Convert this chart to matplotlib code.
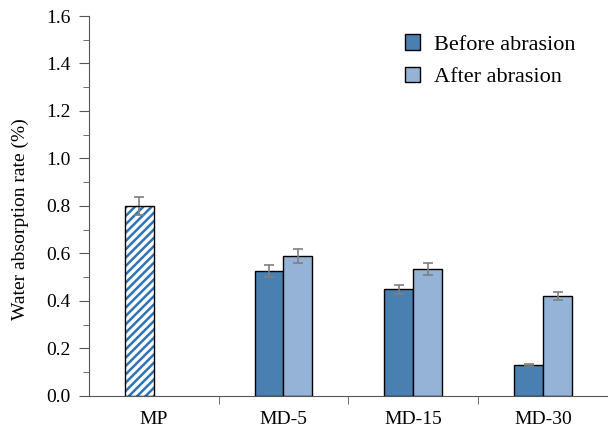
import numpy as np
import matplotlib.pyplot as plt

plt.rcParams['font.family'] = ['Liberation Serif', 'DejaVu Serif']
plt.rcParams['hatch.linewidth'] = 1.8

categories = ['MP', 'MD-5', 'MD-15', 'MD-30']
before = [0.80, 0.526, 0.448, 0.128]
before_err = [0.038, 0.027, 0.018, 0.004]
after = [np.nan, 0.589, 0.535, 0.42]
after_err = [np.nan, 0.030, 0.025, 0.018]

fig = plt.figure(figsize=(6.08, 4.33), dpi=100)
ax = fig.add_axes([0.146, 0.086, 0.854, 0.877])

x = np.arange(len(categories))
w = 0.222
ekw = dict(ecolor='#7f7f7f', elinewidth=1.2, capsize=3.5, capthick=1.2)

# MP is drawn hatched, the rest plain
ax.bar(x[0] - w / 2, before[0], w, yerr=before_err[0], color='white',
       edgecolor='#2e75b6', hatch='////', linewidth=0, error_kw=ekw, zorder=2)
ax.bar(x[0] - w / 2, before[0], w, fill=False, edgecolor='black', linewidth=1, zorder=3)
ax.bar(x[1:] - w / 2, before[1:], w, yerr=before_err[1:], color='#4a7fb2',
       edgecolor='black', linewidth=1, error_kw=ekw, label='Before abrasion', zorder=2)
ax.bar(x[1:] + w / 2, after[1:], w, yerr=after_err[1:], color='#95b3d7',
       edgecolor='black', linewidth=1, error_kw=ekw, label='After abrasion', zorder=2)

ax.set_xlim(-0.5, 3.5)
ax.set_ylim(0, 1.6)
ax.set_yticks(np.arange(0, 1.61, 0.2))
ax.set_yticklabels([f'{v:.1f}' for v in np.arange(0, 1.61, 0.2)], fontsize=14)
ax.set_yticks(np.arange(0.1, 1.6, 0.2), minor=True)
ax.set_xticks(x)
ax.set_xticklabels(categories, fontsize=14)
ax.tick_params(axis='x', length=0, pad=11)
ax.set_xticks([0.5, 1.5, 2.5], minor=True)
ax.tick_params(axis='x', which='minor', length=6, color='#555555')
ax.tick_params(axis='y', length=7, color='#555555', pad=6)
ax.tick_params(axis='y', which='minor', length=4, color='#555555')
ax.set_ylabel('Water absorption rate (%)', fontsize=14)
ax.yaxis.set_label_coords(-0.115, 0.465)

for s in ['top', 'right']:
    ax.spines[s].set_visible(False)
for s in ['left', 'bottom']:
    ax.spines[s].set_color('#555555')

ax.legend(loc='upper left', bbox_to_anchor=(0.57, 1.005), frameon=False, fontsize=16,
          handlelength=0.7, handleheight=0.7, handletextpad=0.6, labelspacing=0.55)

fig.savefig('out.png', dpi=100)
